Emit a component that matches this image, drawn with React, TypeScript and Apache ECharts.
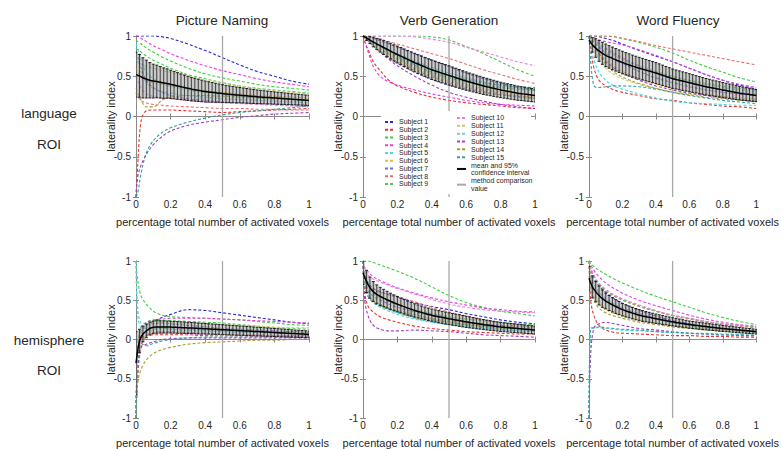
import React, { useEffect, useRef } from "react";
import * as echarts from "echarts";

// x positions of the subject curves and of the confidence-interval bars
const X_SUBJ = [0, 0.01, 0.03, 0.06, 0.1, 0.15, 0.2, 0.3, 0.4, 0.5, 0.6, 0.7, 0.8, 0.9, 1];
const X_CI = [0, 0.02, 0.04, 0.06, 0.08, 0.1, 0.12, 0.14, 0.16, 0.18, 0.2, 0.22, 0.24, 0.26, 0.28, 0.3, 0.32, 0.34, 0.36, 0.38, 0.4, 0.42, 0.44, 0.46, 0.48, 0.5, 0.52, 0.54, 0.56, 0.58, 0.6, 0.62, 0.64, 0.66, 0.68, 0.7, 0.72, 0.74, 0.76, 0.78, 0.8, 0.82, 0.84, 0.86, 0.88, 0.9, 0.92, 0.94, 0.96, 0.98, 1];
const CI_STEP = 0.02;
const METHOD_X = 0.5;

const SUBJECT_NAMES = ["Subject 1", "Subject 2", "Subject 3", "Subject 4", "Subject 5", "Subject 6", "Subject 7", "Subject 8", "Subject 9", "Subject 10", "Subject 11", "Subject 12", "Subject 13", "Subject 14", "Subject 15"];
const SUBJECT_COLORS = ["#2a2ad8", "#e8302e", "#3ccf3c", "#e83ee8", "#3ee0e8", "#e8b830", "#6a6ad8", "#e87070", "#50c850", "#e880e0", "#c8c870", "#70d0d0", "#a040c0", "#a0a030", "#30a0a0"];
const COLUMN_TITLES = ["Picture Naming", "Verb Generation", "Word Fluency"];
const ROW_LABELS = [["language", "ROI"], ["hemisphere", "ROI"]];

// ---- Picture Naming, language ROI ----
const pnLangSubjects = [
  [1, 1, 1, 1, 1, 0.99, 0.97, 0.9, 0.82, 0.73, 0.64, 0.56, 0.5, 0.44, 0.4],
  [-1, -0.6, -0.05, 0.07, 0.08, 0.08, 0.08, 0.07, 0.06, 0.05, 0.06, 0.07, 0.08, 0.09, 0.1],
  [0.95, 0.93, 0.9, 0.85, 0.8, 0.74, 0.69, 0.6, 0.53, 0.48, 0.44, 0.4, 0.37, 0.35, 0.33],
  [1, 1, 0.97, 0.93, 0.88, 0.83, 0.78, 0.7, 0.63, 0.57, 0.52, 0.47, 0.43, 0.4, 0.37],
  [0.9, 0.85, 0.7, 0.55, 0.47, 0.42, 0.38, 0.33, 0.3, 0.27, 0.25, 0.23, 0.22, 0.21, 0.2],
  [0.6, 0.55, 0.5, 0.45, 0.42, 0.4, 0.38, 0.35, 0.32, 0.3, 0.28, 0.26, 0.25, 0.24, 0.23],
  [0.8, 0.75, 0.6, 0.45, 0.36, 0.3, 0.26, 0.22, 0.2, 0.18, 0.17, 0.16, 0.15, 0.14, 0.14],
  [0.3, 0.25, 0.2, 0.17, 0.15, 0.14, 0.13, 0.12, 0.11, 0.1, 0.1, 0.09, 0.09, 0.08, 0.08],
  [0.85, 0.83, 0.8, 0.75, 0.7, 0.65, 0.6, 0.52, 0.47, 0.42, 0.38, 0.35, 0.33, 0.31, 0.29],
  [0.5, 0.45, 0.35, 0.28, 0.25, 0.23, 0.22, 0.2, 0.18, 0.17, 0.16, 0.15, 0.14, 0.13, 0.12],
  [0.7, 0.68, 0.65, 0.62, 0.6, 0.57, 0.55, 0.5, 0.45, 0.42, 0.38, 0.35, 0.32, 0.3, 0.28],
  [0.75, 0.7, 0.55, 0.42, 0.35, 0.31, 0.29, 0.26, 0.24, 0.22, 0.21, 0.2, 0.19, 0.18, 0.17],
  [-1, -0.75, -0.6, -0.47, -0.35, -0.25, -0.18, -0.11, -0.07, -0.04, -0.01, 0.01, 0.03, 0.04, 0.05],
  [0.35, 0.3, 0.2, 0.12, 0.12, 0.2, 0.24, 0.26, 0.26, 0.25, 0.24, 0.23, 0.22, 0.21, 0.2],
  [-1, -0.95, -0.7, -0.45, -0.3, -0.2, -0.14, -0.07, -0.02, 0.02, 0.05, 0.07, 0.09, 0.11, 0.13],
];
const pnLangMean = [0.52, 0.505, 0.48, 0.465, 0.45, 0.44, 0.435, 0.425, 0.415, 0.41, 0.4, 0.39, 0.38, 0.37, 0.36, 0.35, 0.34, 0.333, 0.325, 0.318, 0.31, 0.305, 0.3, 0.295, 0.29, 0.285, 0.28, 0.276, 0.272, 0.268, 0.265, 0.261, 0.257, 0.253, 0.249, 0.245, 0.242, 0.239, 0.236, 0.233, 0.23, 0.227, 0.224, 0.221, 0.218, 0.215, 0.212, 0.209, 0.206, 0.203, 0.2];
const pnLangCI = [0.28, 0.265, 0.25, 0.235, 0.22, 0.21, 0.203, 0.196, 0.189, 0.182, 0.175, 0.17, 0.165, 0.16, 0.155, 0.15, 0.146, 0.142, 0.138, 0.134, 0.13, 0.126, 0.122, 0.118, 0.114, 0.11, 0.107, 0.104, 0.101, 0.098, 0.095, 0.093, 0.091, 0.089, 0.087, 0.085, 0.083, 0.081, 0.079, 0.077, 0.076, 0.074, 0.073, 0.071, 0.07, 0.068, 0.067, 0.066, 0.065, 0.064, 0.064];

// ---- Verb Generation, language ROI ----
const vgLangSubjects = [
  [1, 1, 0.99, 0.97, 0.94, 0.9, 0.86, 0.78, 0.7, 0.62, 0.54, 0.47, 0.41, 0.36, 0.33],
  [1, 0.93, 0.83, 0.68, 0.57, 0.45, 0.38, 0.3, 0.24, 0.2, 0.17, 0.15, 0.13, 0.11, 0.1],
  [1, 0.99, 0.97, 0.93, 0.87, 0.8, 0.74, 0.64, 0.55, 0.48, 0.43, 0.39, 0.36, 0.34, 0.32],
  [1, 0.93, 0.8, 0.62, 0.5, 0.43, 0.39, 0.33, 0.28, 0.24, 0.2, 0.17, 0.15, 0.14, 0.13],
  [1, 0.99, 0.97, 0.93, 0.88, 0.83, 0.78, 0.69, 0.61, 0.54, 0.48, 0.43, 0.39, 0.36, 0.34],
  [1, 0.98, 0.95, 0.9, 0.84, 0.77, 0.71, 0.6, 0.51, 0.44, 0.38, 0.33, 0.29, 0.26, 0.24],
  [1, 0.98, 0.94, 0.88, 0.81, 0.73, 0.66, 0.55, 0.46, 0.39, 0.34, 0.3, 0.27, 0.25, 0.23],
  [1, 1, 1, 0.98, 0.96, 0.93, 0.9, 0.84, 0.78, 0.72, 0.65, 0.58, 0.52, 0.46, 0.41],
  [1, 1, 1, 1, 1, 1, 1, 1, 0.99, 0.95, 0.87, 0.78, 0.68, 0.58, 0.5],
  [1, 1, 1, 1, 1, 1, 1, 0.99, 0.96, 0.92, 0.86, 0.8, 0.74, 0.68, 0.63],
  [1, 0.98, 0.95, 0.9, 0.84, 0.78, 0.72, 0.62, 0.53, 0.46, 0.4, 0.35, 0.31, 0.28, 0.26],
  [1, 0.99, 0.96, 0.92, 0.86, 0.8, 0.74, 0.64, 0.56, 0.49, 0.44, 0.4, 0.37, 0.35, 0.34],
  [1, 0.99, 0.95, 0.88, 0.8, 0.71, 0.63, 0.5, 0.39, 0.3, 0.24, 0.19, 0.15, 0.12, 0.1],
  [1, 0.98, 0.94, 0.88, 0.81, 0.74, 0.68, 0.58, 0.49, 0.42, 0.36, 0.31, 0.27, 0.24, 0.22],
  [1, 0.99, 0.97, 0.93, 0.88, 0.82, 0.76, 0.66, 0.58, 0.51, 0.46, 0.42, 0.39, 0.37, 0.36],
];
const vgLangMean = [1, 0.975, 0.95, 0.925, 0.9, 0.88, 0.857, 0.835, 0.813, 0.79, 0.77, 0.75, 0.73, 0.71, 0.69, 0.67, 0.652, 0.634, 0.616, 0.598, 0.58, 0.566, 0.552, 0.538, 0.524, 0.51, 0.496, 0.482, 0.468, 0.454, 0.44, 0.428, 0.416, 0.404, 0.392, 0.38, 0.37, 0.36, 0.35, 0.34, 0.33, 0.322, 0.314, 0.306, 0.298, 0.29, 0.284, 0.278, 0.272, 0.266, 0.26];
const vgLangCI = [0.01, 0.03, 0.045, 0.06, 0.07, 0.08, 0.086, 0.092, 0.097, 0.101, 0.105, 0.107, 0.109, 0.111, 0.113, 0.115, 0.116, 0.117, 0.118, 0.119, 0.12, 0.12, 0.12, 0.12, 0.12, 0.12, 0.119, 0.118, 0.117, 0.115, 0.114, 0.112, 0.111, 0.109, 0.108, 0.106, 0.104, 0.102, 0.1, 0.098, 0.096, 0.094, 0.093, 0.091, 0.09, 0.088, 0.086, 0.085, 0.083, 0.082, 0.08];

// ---- Word Fluency, language ROI ----
const wfLangSubjects = [
  [1, 1, 1, 0.99, 0.97, 0.94, 0.9, 0.82, 0.75, 0.68, 0.6, 0.52, 0.45, 0.39, 0.34],
  [1, 0.85, 0.6, 0.45, 0.38, 0.33, 0.3, 0.26, 0.22, 0.2, 0.17, 0.15, 0.13, 0.12, 0.1],
  [1, 1, 1, 1, 1, 0.99, 0.97, 0.92, 0.86, 0.79, 0.7, 0.62, 0.55, 0.48, 0.43],
  [1, 1, 0.98, 0.95, 0.93, 0.91, 0.89, 0.83, 0.76, 0.68, 0.6, 0.52, 0.45, 0.4, 0.36],
  [1, 0.9, 0.7, 0.55, 0.45, 0.38, 0.34, 0.28, 0.23, 0.19, 0.17, 0.16, 0.15, 0.14, 0.14],
  [1, 0.97, 0.9, 0.8, 0.7, 0.62, 0.56, 0.47, 0.4, 0.35, 0.31, 0.28, 0.25, 0.23, 0.21],
  [1, 0.97, 0.92, 0.86, 0.79, 0.72, 0.66, 0.56, 0.48, 0.42, 0.37, 0.33, 0.3, 0.28, 0.26],
  [1, 1, 1, 1, 1, 0.99, 0.97, 0.93, 0.88, 0.84, 0.8, 0.76, 0.72, 0.68, 0.64],
  [1, 0.98, 0.95, 0.9, 0.84, 0.78, 0.72, 0.63, 0.56, 0.5, 0.45, 0.41, 0.38, 0.35, 0.33],
  [1, 0.99, 0.96, 0.91, 0.85, 0.79, 0.73, 0.63, 0.55, 0.48, 0.42, 0.37, 0.33, 0.3, 0.28],
  [1, 0.95, 0.85, 0.72, 0.6, 0.52, 0.47, 0.4, 0.35, 0.31, 0.28, 0.26, 0.24, 0.23, 0.22],
  [1, 0.98, 0.94, 0.88, 0.82, 0.76, 0.71, 0.62, 0.55, 0.49, 0.44, 0.4, 0.36, 0.33, 0.31],
  [1, 0.96, 0.88, 0.78, 0.68, 0.6, 0.54, 0.45, 0.38, 0.33, 0.29, 0.26, 0.23, 0.21, 0.19],
  [1, 0.97, 0.9, 0.78, 0.65, 0.55, 0.49, 0.41, 0.35, 0.3, 0.27, 0.24, 0.22, 0.2, 0.18],
  [1, 0.7, 0.38, 0.36, 0.37, 0.38, 0.38, 0.37, 0.34, 0.3, 0.26, 0.23, 0.2, 0.18, 0.16],
];
const wfLangMean = [0.95, 0.89, 0.85, 0.815, 0.785, 0.76, 0.74, 0.722, 0.704, 0.687, 0.67, 0.655, 0.64, 0.626, 0.613, 0.6, 0.588, 0.576, 0.564, 0.552, 0.54, 0.526, 0.512, 0.498, 0.484, 0.47, 0.46, 0.45, 0.44, 0.43, 0.42, 0.41, 0.4, 0.39, 0.38, 0.37, 0.362, 0.354, 0.346, 0.338, 0.33, 0.322, 0.314, 0.306, 0.298, 0.29, 0.284, 0.278, 0.272, 0.266, 0.26];
const wfLangCI = [0.05, 0.09, 0.115, 0.13, 0.137, 0.14, 0.14, 0.14, 0.14, 0.14, 0.14, 0.139, 0.138, 0.137, 0.136, 0.135, 0.134, 0.133, 0.132, 0.131, 0.13, 0.128, 0.126, 0.124, 0.122, 0.12, 0.118, 0.117, 0.115, 0.114, 0.112, 0.11, 0.108, 0.106, 0.104, 0.102, 0.1, 0.098, 0.096, 0.094, 0.092, 0.091, 0.089, 0.088, 0.086, 0.084, 0.082, 0.08, 0.079, 0.077, 0.075];

// ---- Picture Naming, hemisphere ROI ----
const pnHemiSubjects = [
  [-1, -0.2, 0.1, 0.18, 0.23, 0.28, 0.32, 0.38, 0.37, 0.34, 0.31, 0.28, 0.25, 0.22, 0.2],
  [-1, -0.3, 0.02, 0.05, 0.06, 0.06, 0.06, 0.06, 0.05, 0.05, 0.05, 0.04, 0.04, 0.04, 0.04],
  [1, 0.75, 0.55, 0.45, 0.36, 0.31, 0.29, 0.28, 0.27, 0.26, 0.25, 0.23, 0.21, 0.19, 0.18],
  [-1, -0.1, 0.15, 0.22, 0.25, 0.26, 0.27, 0.27, 0.27, 0.26, 0.25, 0.24, 0.23, 0.22, 0.21],
  [1, 0.3, 0.15, 0.14, 0.14, 0.14, 0.13, 0.12, 0.11, 0.1, 0.09, 0.09, 0.08, 0.08, 0.08],
  [-1, -0.4, -0.05, 0.08, 0.12, 0.14, 0.15, 0.15, 0.14, 0.13, 0.12, 0.11, 0.1, 0.1, 0.09],
  [-1, -0.2, 0.1, 0.18, 0.2, 0.21, 0.2, 0.18, 0.16, 0.14, 0.13, 0.12, 0.11, 0.1, 0.09],
  [-1, -0.5, -0.1, 0.05, 0.09, 0.1, 0.1, 0.09, 0.08, 0.07, 0.06, 0.06, 0.05, 0.05, 0.05],
  [-1, -0.1, 0.15, 0.22, 0.24, 0.24, 0.24, 0.23, 0.22, 0.21, 0.19, 0.17, 0.15, 0.14, 0.13],
  [-1, -0.3, 0, 0.06, 0.08, 0.08, 0.08, 0.07, 0.06, 0.05, 0.05, 0.04, 0.04, 0.03, 0.03],
  [-1, -0.2, 0.1, 0.17, 0.2, 0.21, 0.21, 0.21, 0.2, 0.19, 0.18, 0.17, 0.16, 0.15, 0.15],
  [1, 0.4, 0.2, 0.16, 0.15, 0.15, 0.14, 0.13, 0.12, 0.11, 0.1, 0.09, 0.09, 0.08, 0.08],
  [-1, -0.4, -0.1, -0.06, -0.03, 0, 0.01, 0.02, 0.02, 0.02, 0.02, 0.02, 0.02, 0.02, 0.02],
  [-1, -0.55, -0.38, -0.26, -0.18, -0.13, -0.1, -0.06, -0.04, -0.03, -0.02, -0.01, -0.01, 0, 0],
  [-1, -0.3, -0.05, -0.08, -0.05, -0.02, 0, 0.02, 0.03, 0.03, 0.03, 0.03, 0.03, 0.03, 0.03],
];
const pnHemiMean = [-0.3, -0.02, 0.07, 0.11, 0.14, 0.155, 0.16, 0.16, 0.16, 0.159, 0.158, 0.156, 0.154, 0.152, 0.15, 0.148, 0.146, 0.144, 0.141, 0.139, 0.137, 0.135, 0.132, 0.13, 0.127, 0.125, 0.123, 0.12, 0.118, 0.115, 0.113, 0.111, 0.108, 0.106, 0.103, 0.101, 0.099, 0.096, 0.094, 0.091, 0.089, 0.087, 0.084, 0.082, 0.079, 0.077, 0.075, 0.072, 0.07, 0.067, 0.065];
const pnHemiCI = [0.4, 0.15, 0.1, 0.088, 0.083, 0.08, 0.079, 0.078, 0.077, 0.076, 0.075, 0.074, 0.074, 0.073, 0.072, 0.071, 0.07, 0.07, 0.069, 0.068, 0.067, 0.066, 0.066, 0.065, 0.064, 0.063, 0.062, 0.062, 0.061, 0.06, 0.059, 0.058, 0.058, 0.057, 0.056, 0.055, 0.054, 0.054, 0.053, 0.052, 0.051, 0.05, 0.05, 0.049, 0.048, 0.047, 0.046, 0.046, 0.045, 0.044, 0.043];

// ---- Verb Generation, hemisphere ROI ----
const vgHemiSubjects = [
  [1, 0.85, 0.72, 0.65, 0.61, 0.57, 0.54, 0.47, 0.42, 0.38, 0.33, 0.29, 0.25, 0.22, 0.2],
  [1, 0.6, 0.42, 0.35, 0.29, 0.25, 0.22, 0.17, 0.14, 0.12, 0.1, 0.09, 0.08, 0.07, 0.07],
  [1, 1, 1, 0.98, 0.95, 0.91, 0.87, 0.78, 0.67, 0.56, 0.47, 0.41, 0.36, 0.33, 0.3],
  [1, 0.92, 0.86, 0.8, 0.75, 0.7, 0.66, 0.59, 0.53, 0.48, 0.44, 0.4, 0.38, 0.36, 0.35],
  [1, 0.8, 0.6, 0.5, 0.44, 0.38, 0.34, 0.27, 0.22, 0.19, 0.16, 0.14, 0.12, 0.11, 0.1],
  [1, 0.75, 0.58, 0.5, 0.45, 0.4, 0.36, 0.3, 0.26, 0.22, 0.19, 0.17, 0.15, 0.14, 0.13],
  [1, 0.8, 0.62, 0.55, 0.5, 0.45, 0.41, 0.35, 0.3, 0.26, 0.23, 0.2, 0.18, 0.17, 0.16],
  [1, 0.85, 0.7, 0.63, 0.6, 0.58, 0.55, 0.48, 0.41, 0.35, 0.3, 0.25, 0.21, 0.19, 0.17],
  [1, 0.8, 0.65, 0.58, 0.53, 0.48, 0.44, 0.38, 0.33, 0.29, 0.26, 0.24, 0.22, 0.2, 0.19],
  [1, 0.9, 0.82, 0.77, 0.73, 0.69, 0.65, 0.58, 0.51, 0.45, 0.41, 0.38, 0.36, 0.35, 0.34],
  [1, 0.7, 0.55, 0.47, 0.42, 0.38, 0.34, 0.28, 0.24, 0.21, 0.18, 0.16, 0.14, 0.13, 0.12],
  [1, 0.7, 0.55, 0.47, 0.41, 0.36, 0.32, 0.26, 0.22, 0.19, 0.17, 0.15, 0.13, 0.12, 0.11],
  [1, 0.5, 0.3, 0.18, 0.13, 0.11, 0.11, 0.12, 0.11, 0.1, 0.08, 0.06, 0.05, 0.04, 0.03],
  [1, 0.72, 0.55, 0.48, 0.44, 0.4, 0.37, 0.32, 0.27, 0.24, 0.21, 0.19, 0.17, 0.16, 0.15],
  [1, 0.7, 0.55, 0.48, 0.43, 0.39, 0.35, 0.29, 0.25, 0.22, 0.19, 0.17, 0.15, 0.14, 0.13],
];
const vgHemiMean = [0.85, 0.74, 0.66, 0.61, 0.575, 0.55, 0.528, 0.507, 0.487, 0.468, 0.45, 0.433, 0.417, 0.4, 0.385, 0.37, 0.357, 0.345, 0.333, 0.321, 0.31, 0.3, 0.291, 0.282, 0.273, 0.265, 0.257, 0.249, 0.241, 0.233, 0.225, 0.218, 0.211, 0.204, 0.197, 0.19, 0.184, 0.178, 0.172, 0.166, 0.16, 0.156, 0.152, 0.148, 0.144, 0.14, 0.136, 0.132, 0.128, 0.124, 0.12];
const vgHemiCI = [0.15, 0.142, 0.135, 0.128, 0.121, 0.115, 0.111, 0.107, 0.103, 0.1, 0.097, 0.094, 0.092, 0.09, 0.087, 0.085, 0.084, 0.082, 0.081, 0.079, 0.078, 0.077, 0.077, 0.076, 0.076, 0.075, 0.074, 0.073, 0.073, 0.072, 0.071, 0.07, 0.068, 0.067, 0.065, 0.064, 0.063, 0.062, 0.06, 0.059, 0.058, 0.057, 0.056, 0.056, 0.055, 0.054, 0.053, 0.052, 0.052, 0.051, 0.05];

// ---- Word Fluency, hemisphere ROI ----
const wfHemiSubjects = [
  [1, 0.9, 0.78, 0.68, 0.6, 0.52, 0.46, 0.37, 0.3, 0.24, 0.2, 0.16, 0.13, 0.11, 0.1],
  [1, 0.5, 0.3, 0.18, 0.12, 0.09, 0.08, 0.07, 0.06, 0.05, 0.05, 0.04, 0.04, 0.03, 0.03],
  [1, 0.97, 0.93, 0.88, 0.83, 0.77, 0.72, 0.63, 0.55, 0.48, 0.41, 0.34, 0.28, 0.23, 0.19],
  [1, 0.95, 0.88, 0.8, 0.72, 0.65, 0.59, 0.5, 0.43, 0.37, 0.31, 0.26, 0.22, 0.19, 0.17],
  [-1, 0.15, 0.15, 0.15, 0.14, 0.13, 0.12, 0.11, 0.1, 0.09, 0.08, 0.08, 0.07, 0.07, 0.07],
  [1, 0.8, 0.6, 0.48, 0.4, 0.35, 0.31, 0.25, 0.21, 0.18, 0.15, 0.13, 0.12, 0.11, 0.1],
  [1, 0.85, 0.7, 0.6, 0.52, 0.45, 0.4, 0.33, 0.27, 0.22, 0.18, 0.15, 0.13, 0.12, 0.11],
  [1, 0.9, 0.8, 0.7, 0.62, 0.55, 0.5, 0.42, 0.36, 0.3, 0.26, 0.22, 0.19, 0.17, 0.15],
  [1, 0.9, 0.8, 0.7, 0.62, 0.56, 0.51, 0.43, 0.36, 0.31, 0.27, 0.23, 0.2, 0.18, 0.16],
  [1, 0.92, 0.82, 0.72, 0.64, 0.57, 0.52, 0.44, 0.37, 0.31, 0.27, 0.23, 0.2, 0.18, 0.16],
  [1, 0.75, 0.55, 0.45, 0.38, 0.33, 0.3, 0.25, 0.21, 0.18, 0.16, 0.14, 0.13, 0.12, 0.11],
  [1, 0.85, 0.7, 0.6, 0.52, 0.45, 0.4, 0.32, 0.26, 0.21, 0.18, 0.15, 0.13, 0.12, 0.11],
  [-1, -0.2, 0.15, 0.2, 0.22, 0.2, 0.18, 0.14, 0.12, 0.1, 0.08, 0.07, 0.06, 0.05, 0.05],
  [1, 0.7, 0.5, 0.4, 0.34, 0.3, 0.27, 0.22, 0.19, 0.16, 0.14, 0.12, 0.11, 0.1, 0.09],
  [-1, 0.13, 0.15, 0.16, 0.15, 0.14, 0.13, 0.12, 0.1, 0.09, 0.08, 0.07, 0.06, 0.06, 0.05],
];
const wfHemiMean = [0.78, 0.67, 0.61, 0.56, 0.52, 0.49, 0.465, 0.442, 0.42, 0.4, 0.38, 0.365, 0.35, 0.336, 0.323, 0.31, 0.3, 0.291, 0.282, 0.273, 0.265, 0.257, 0.249, 0.241, 0.233, 0.225, 0.218, 0.211, 0.204, 0.197, 0.19, 0.185, 0.18, 0.175, 0.17, 0.165, 0.16, 0.155, 0.15, 0.145, 0.14, 0.136, 0.132, 0.128, 0.124, 0.12, 0.116, 0.112, 0.108, 0.104, 0.1];
const wfHemiCI = [0.15, 0.14, 0.13, 0.12, 0.11, 0.1, 0.096, 0.092, 0.088, 0.084, 0.08, 0.078, 0.076, 0.074, 0.072, 0.071, 0.069, 0.066, 0.064, 0.062, 0.06, 0.058, 0.057, 0.055, 0.054, 0.052, 0.051, 0.05, 0.048, 0.047, 0.046, 0.045, 0.044, 0.044, 0.043, 0.042, 0.041, 0.04, 0.04, 0.039, 0.038, 0.037, 0.036, 0.036, 0.035, 0.034, 0.033, 0.032, 0.032, 0.031, 0.03];

const PANELS = [
  { subjects: pnLangSubjects, mean: pnLangMean, ci: pnLangCI },
  { subjects: vgLangSubjects, mean: vgLangMean, ci: vgLangCI },
  { subjects: wfLangSubjects, mean: wfLangMean, ci: wfLangCI },
  { subjects: pnHemiSubjects, mean: pnHemiMean, ci: pnHemiCI },
  { subjects: vgHemiSubjects, mean: vgHemiMean, ci: vgHemiCI },
  { subjects: wfHemiSubjects, mean: wfHemiMean, ci: wfHemiCI },
];

// layout (pixels)
const COLS = [
  { left: 136, width: 173 },
  { left: 363, width: 172 },
  { left: 589, width: 173 },
];
const ROWS = [
  { top: 36, height: 161 },
  { top: 261, height: 159 },
];

const FONT = "'Liberation Sans', Arial, Helvetica, sans-serif";
const AXIS_COLOR = "#8a8a8a";
const TEXT_COLOR = "#262626";
const MEAN_NAME = "mean";
const METHOD_NAME = "method";

function buildOption() {
  const grid: any[] = [];
  const xAxis: any[] = [];
  const yAxis: any[] = [];
  const series: any[] = [];

  PANELS.forEach((panel, i) => {
    const row = ROWS[Math.floor(i / 3)];
    const col = COLS[i % 3];
    grid.push({ left: col.left, top: row.top, width: col.width, height: row.height, containLabel: false });
    const base = {
      type: "value",
      gridIndex: i,
      axisLine: { show: true, lineStyle: { color: AXIS_COLOR, width: 1 } },
      axisTick: { show: true, inside: true, length: 3, lineStyle: { color: AXIS_COLOR } },
      splitLine: { show: false },
    };
    xAxis.push({
      ...base,
      min: 0, max: 1, interval: 0.2,
      position: "bottom",
      axisLabel: { fontSize: 10, color: TEXT_COLOR, fontFamily: FONT, margin: 2 },
      name: "percentage total number of activated voxels",
      nameLocation: "middle",
      nameGap: 19,
      nameMoveOverlap: false,
      nameTextStyle: { fontSize: 11, color: TEXT_COLOR, fontFamily: FONT },
    });
    xAxis.push({ ...base, min: 0, max: 1, interval: 0.2, position: "top", axisLabel: { show: false } });
    yAxis.push({
      ...base,
      min: -1, max: 1, interval: 0.5,
      position: "left",
      axisLabel: { fontSize: 10, color: TEXT_COLOR, fontFamily: FONT, margin: 5 },
      name: "laterality index",
      nameLocation: "middle",
      nameGap: 20,
      nameMoveOverlap: false,
      nameTextStyle: { fontSize: 11, color: TEXT_COLOR, fontFamily: FONT },
    });
    yAxis.push({ ...base, min: -1, max: 1, interval: 0.5, position: "right", axisLabel: { show: false } });

    const xi = 2 * i;
    panel.subjects.forEach((vals, k) => {
      series.push({
        type: "line",
        name: SUBJECT_NAMES[k],
        xAxisIndex: xi,
        yAxisIndex: xi,
        data: X_SUBJ.map((x, j) => [x, vals[j]]),
        smooth: 0.35,
        symbol: "none",
        showSymbol: false,
        lineStyle: { color: SUBJECT_COLORS[k], width: 1.1, type: [3, 2] },
        itemStyle: { color: SUBJECT_COLORS[k] },
        z: 2,
        silent: true,
      });
    });
    series.push({
      type: "line",
      name: METHOD_NAME,
      xAxisIndex: xi,
      yAxisIndex: xi,
      data: [[METHOD_X, -1], [METHOD_X, 1]],
      symbol: "none",
      lineStyle: { color: "#a8a8a8", width: 1.3 },
      itemStyle: { color: "#a8a8a8" },
      z: 2,
      silent: true,
    });
    series.push({
      type: "custom",
      xAxisIndex: xi,
      yAxisIndex: xi,
      data: X_CI.map((x, j) => [x, panel.mean[j], panel.ci[j]]),
      clip: true,
      z: 3,
      silent: true,
      renderItem: (params: any, api: any) => {
        const x = api.value(0);
        const m = api.value(1);
        const c = api.value(2);
        const p = api.coord([x, m + c]);
        const q = api.coord([x, m - c]);
        const w = api.size([CI_STEP, 0])[0];
        const cap = w * 0.42;
        return {
          type: "group",
          children: [
            { type: "rect", shape: { x: p[0] - w / 2, y: p[1], width: w, height: q[1] - p[1] }, style: { fill: "#9a9a9a", opacity: 0.55 } },
            { type: "line", shape: { x1: p[0], y1: p[1], x2: q[0], y2: q[1] }, style: { stroke: "#1e1e1e", lineWidth: 0.8 } },
            { type: "line", shape: { x1: p[0] - cap, y1: p[1], x2: p[0] + cap, y2: p[1] }, style: { stroke: "#111", lineWidth: 0.9 } },
            { type: "line", shape: { x1: q[0] - cap, y1: q[1], x2: q[0] + cap, y2: q[1] }, style: { stroke: "#111", lineWidth: 0.9 } },
          ],
        };
      },
    });
    series.push({
      type: "line",
      name: MEAN_NAME,
      xAxisIndex: xi,
      yAxisIndex: xi,
      data: X_CI.map((x, j) => [x, panel.mean[j]]),
      smooth: 0.3,
      symbol: "none",
      lineStyle: { color: "#000", width: 1.5 },
      itemStyle: { color: "#000" },
      z: 4,
      silent: true,
    });
  });

  const graphic: any[] = [];
  const titleX = [222, 449, 678];
  COLUMN_TITLES.forEach((t, c) => {
    graphic.push({
      type: "text",
      x: titleX[c],
      y: 20,
      style: {
        text: t, fill: TEXT_COLOR, font: `13.5px ${FONT}`,
        textAlign: "center", textVerticalAlign: "middle", align: "center", verticalAlign: "middle",
      },
    });
  });
  const rowLabelY = [[113, 144], [340, 370]];
  ROW_LABELS.forEach((lines, r) => {
    lines.forEach((t, k) => {
      graphic.push({
        type: "text",
        x: 49,
        y: rowLabelY[r][k],
        style: {
          text: t, fill: TEXT_COLOR, font: `13.5px ${FONT}`,
          textAlign: "center", textVerticalAlign: "middle", align: "center", verticalAlign: "middle",
        },
      });
    });
  });
  // white legend box
  graphic.push({
    type: "rect",
    z: 10,
    shape: { x: 381, y: 111, width: 150, height: 83 },
    style: { fill: "#ffffff" },
  });

  const legendCommon = {
    orient: "vertical",
    itemWidth: 9,
    itemHeight: 6,
    padding: 0,
    selectedMode: false,
    itemStyle: { opacity: 0 },
    z: 20,
  };
  const legend = [
    {
      ...legendCommon,
      data: SUBJECT_NAMES.slice(0, 9),
      left: 384,
      top: 118,
      itemGap: 0,
      textStyle: { fontSize: 7, lineHeight: 7.75, color: TEXT_COLOR, fontFamily: FONT },
    },
    {
      ...legendCommon,
      data: [...SUBJECT_NAMES.slice(9), MEAN_NAME, METHOD_NAME],
      left: 456,
      top: 114,
      itemGap: 0,
      textStyle: { fontSize: 7, lineHeight: 7.85, color: TEXT_COLOR, fontFamily: FONT },
      formatter: (name: string) =>
        name === MEAN_NAME ? "mean and 95%\nconfidence interval" : name === METHOD_NAME ? "method comparison\nvalue" : name,
    },
  ];

  return {
    animation: false,
    backgroundColor: "#ffffff",
    grid,
    xAxis,
    yAxis,
    series,
    graphic,
    legend,
  };
}

export default function App() {
  const ref = useRef<HTMLDivElement>(null);
  useEffect(() => {
    document.body.style.margin = "0";
    const chart = echarts.init(ref.current as HTMLDivElement, null, { renderer: "svg" });
    chart.setOption(buildOption());
    return () => chart.dispose();
  }, []);
  return <div ref={ref} style={{ width: 781, height: 449 }} />;
}
